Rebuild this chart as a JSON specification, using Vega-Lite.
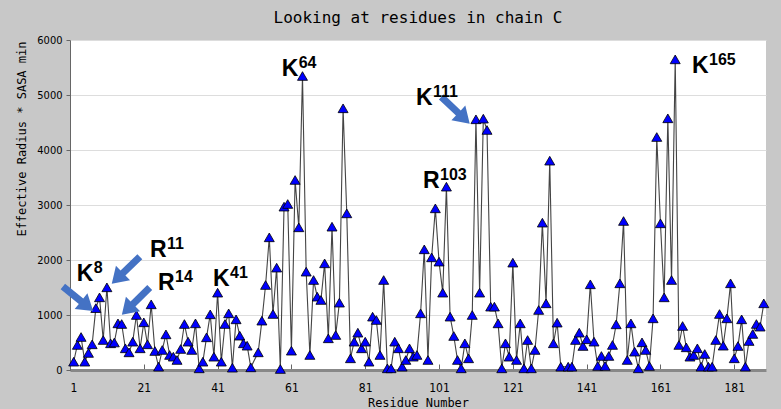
{
  "$schema": "https://vega.github.io/schema/vega-lite/v6.json",
  "width": 696,
  "height": 330,
  "autosize": {"type": "none"},
  "padding": {"left": 70, "top": 40, "right": 15, "bottom": 39},
  "background": "#c8c8c8",
  "config": {"view": {"fill": "white", "stroke": null}},
  "title": {"text": "Looking at residues in chain C", "font": "DejaVu Sans Mono", "fontSize": 16, "fontWeight": "normal", "color": "#000", "anchor": "middle", "offset": 8},
  "datasets": {
    "res": [
      {"residue": 2, "value": 151}, {"residue": 3, "value": 455}, {"residue": 4, "value": 600}, {"residue": 5, "value": 151},
      {"residue": 6, "value": 310}, {"residue": 7, "value": 467}, {"residue": 8, "value": 1125}, {"residue": 9, "value": 1321},
      {"residue": 10, "value": 545}, {"residue": 11, "value": 1503}, {"residue": 12, "value": 485}, {"residue": 13, "value": 500},
      {"residue": 14, "value": 848}, {"residue": 15, "value": 836}, {"residue": 16, "value": 394}, {"residue": 17, "value": 321},
      {"residue": 18, "value": 515}, {"residue": 19, "value": 1000}, {"residue": 20, "value": 394}, {"residue": 21, "value": 867},
      {"residue": 22, "value": 467}, {"residue": 23, "value": 1194}, {"residue": 24, "value": 345}, {"residue": 25, "value": 60},
      {"residue": 26, "value": 364}, {"residue": 27, "value": 648}, {"residue": 28, "value": 273}, {"residue": 29, "value": 242},
      {"residue": 30, "value": 182}, {"residue": 31, "value": 382}, {"residue": 32, "value": 836}, {"residue": 33, "value": 515},
      {"residue": 34, "value": 364}, {"residue": 35, "value": 848}, {"residue": 36, "value": 30}, {"residue": 37, "value": 151},
      {"residue": 38, "value": 594}, {"residue": 39, "value": 1012}, {"residue": 40, "value": 242}, {"residue": 41, "value": 1406},
      {"residue": 42, "value": 151}, {"residue": 43, "value": 836}, {"residue": 44, "value": 1030}, {"residue": 45, "value": 42},
      {"residue": 46, "value": 921}, {"residue": 47, "value": 624}, {"residue": 48, "value": 485}, {"residue": 49, "value": 442},
      {"residue": 50, "value": 48}, {"residue": 52, "value": 321}, {"residue": 53, "value": 897}, {"residue": 54, "value": 1545},
      {"residue": 55, "value": 2412}, {"residue": 56, "value": 1018}, {"residue": 57, "value": 1861}, {"residue": 58, "value": 18},
      {"residue": 59, "value": 2970}, {"residue": 60, "value": 3018}, {"residue": 61, "value": 351}, {"residue": 62, "value": 3455},
      {"residue": 63, "value": 2594}, {"residue": 64, "value": 5345}, {"residue": 65, "value": 1788}, {"residue": 66, "value": 273},
      {"residue": 67, "value": 1636}, {"residue": 68, "value": 1333}, {"residue": 69, "value": 1273}, {"residue": 70, "value": 1939},
      {"residue": 71, "value": 576}, {"residue": 72, "value": 2606}, {"residue": 73, "value": 636}, {"residue": 74, "value": 1224},
      {"residue": 75, "value": 4758}, {"residue": 76, "value": 2848}, {"residue": 77, "value": 212}, {"residue": 78, "value": 515},
      {"residue": 79, "value": 679}, {"residue": 80, "value": 394}, {"residue": 81, "value": 515}, {"residue": 82, "value": 151},
      {"residue": 83, "value": 970}, {"residue": 84, "value": 909}, {"residue": 85, "value": 273}, {"residue": 86, "value": 1636},
      {"residue": 87, "value": 30}, {"residue": 88, "value": 30}, {"residue": 89, "value": 515}, {"residue": 90, "value": 394},
      {"residue": 91, "value": 60}, {"residue": 92, "value": 182}, {"residue": 93, "value": 394}, {"residue": 94, "value": 242},
      {"residue": 95, "value": 273}, {"residue": 96, "value": 1030}, {"residue": 97, "value": 2194}, {"residue": 98, "value": 182},
      {"residue": 99, "value": 2048}, {"residue": 100, "value": 2939}, {"residue": 101, "value": 1970}, {"residue": 102, "value": 1406},
      {"residue": 103, "value": 3333}, {"residue": 104, "value": 970}, {"residue": 105, "value": 618}, {"residue": 106, "value": 182},
      {"residue": 107, "value": 30}, {"residue": 108, "value": 485}, {"residue": 109, "value": 212}, {"residue": 110, "value": 1000},
      {"residue": 111, "value": 4558}, {"residue": 112, "value": 1406}, {"residue": 113, "value": 4570}, {"residue": 114, "value": 4364},
      {"residue": 115, "value": 1152}, {"residue": 116, "value": 1152}, {"residue": 117, "value": 848}, {"residue": 118, "value": 30},
      {"residue": 119, "value": 485}, {"residue": 120, "value": 242}, {"residue": 121, "value": 1952}, {"residue": 122, "value": 182},
      {"residue": 123, "value": 848}, {"residue": 124, "value": 30}, {"residue": 125, "value": 545}, {"residue": 126, "value": 30},
      {"residue": 127, "value": 364}, {"residue": 128, "value": 1091}, {"residue": 129, "value": 2679}, {"residue": 130, "value": 1212},
      {"residue": 131, "value": 3806}, {"residue": 132, "value": 485}, {"residue": 133, "value": 861}, {"residue": 134, "value": 60},
      {"residue": 136, "value": 60}, {"residue": 137, "value": 60}, {"residue": 138, "value": 545}, {"residue": 139, "value": 679},
      {"residue": 140, "value": 436}, {"residue": 141, "value": 558}, {"residue": 142, "value": 1558}, {"residue": 143, "value": 515},
      {"residue": 144, "value": 73}, {"residue": 145, "value": 255}, {"residue": 146, "value": 73}, {"residue": 147, "value": 255},
      {"residue": 148, "value": 455}, {"residue": 149, "value": 830}, {"residue": 150, "value": 1576}, {"residue": 151, "value": 2709},
      {"residue": 152, "value": 182}, {"residue": 153, "value": 848}, {"residue": 154, "value": 333}, {"residue": 155, "value": 30},
      {"residue": 156, "value": 503}, {"residue": 157, "value": 364}, {"residue": 158, "value": 73}, {"residue": 159, "value": 939},
      {"residue": 160, "value": 4236}, {"residue": 161, "value": 2667}, {"residue": 162, "value": 1321}, {"residue": 163, "value": 4576},
      {"residue": 164, "value": 1636}, {"residue": 165, "value": 5648}, {"residue": 166, "value": 455}, {"residue": 167, "value": 800},
      {"residue": 168, "value": 412}, {"residue": 169, "value": 242}, {"residue": 170, "value": 273}, {"residue": 171, "value": 394},
      {"residue": 172, "value": 60}, {"residue": 173, "value": 291}, {"residue": 174, "value": 60}, {"residue": 175, "value": 60},
      {"residue": 176, "value": 545}, {"residue": 177, "value": 1018}, {"residue": 178, "value": 442}, {"residue": 179, "value": 939},
      {"residue": 180, "value": 1576}, {"residue": 181, "value": 212}, {"residue": 182, "value": 436}, {"residue": 183, "value": 921},
      {"residue": 184, "value": 60}, {"residue": 185, "value": 527}, {"residue": 186, "value": 655}, {"residue": 187, "value": 836},
      {"residue": 188, "value": 788}, {"residue": 189, "value": 1212}
    ],
    "labels": [
      {"residue": 2.82, "value": 1618, "base": "K", "sup": "8"},
      {"residue": 22.68, "value": 2055, "base": "R", "sup": "11"},
      {"residue": 24.85, "value": 1455, "base": "R", "sup": "14"},
      {"residue": 39.75, "value": 1527, "base": "K", "sup": "41"},
      {"residue": 58.37, "value": 5345, "base": "K", "sup": "64"},
      {"residue": 94.77, "value": 4818, "base": "K", "sup": "111"},
      {"residue": 96.66, "value": 3309, "base": "R", "sup": "103"},
      {"residue": 169.56, "value": 5400, "base": "K", "sup": "165"}
    ],
    "arrows": [
      {"residue": 3.17, "value": 1296, "angle": 129},
      {"residue": 16.12, "value": 1813, "angle": 226},
      {"residue": 18.83, "value": 1251, "angle": 225.6},
      {"residue": 105.47, "value": 4722, "angle": 133.3}
    ]
  },
  "layer": [
    {
      "data": {"name": "res"},
      "mark": {"type": "line", "color": "#444444", "strokeWidth": 1.1},
      "encoding": {
        "x": {"field": "residue", "type": "quantitative",
          "scale": {"domain": [1, 189.6], "nice": false, "zero": false},
          "axis": {"values": [1, 21, 41, 61, 81, 101, 121, 141, 161, 181], "format": "d", "title": "Residue Number",
            "titleFont": "DejaVu Sans Mono", "titleFontSize": 12, "titleFontWeight": "normal", "titleColor": "#000", "titlePadding": 4,
            "labelFont": "Liberation Sans Narrow, DejaVu Sans Condensed, Liberation Sans", "labelFontSize": 12, "labelColor": "#000", "labelPadding": 18,
            "tickSize": -6, "tickColor": "#666666", "domainColor": "#888888", "domainWidth": 3, "grid": false}},
        "y": {"field": "value", "type": "quantitative",
          "scale": {"domain": [0, 6000], "nice": false},
          "axis": {"values": [0, 1000, 2000, 3000, 4000, 5000, 6000], "format": "d", "title": "Effective Radius * SASA min",
            "titleFont": "DejaVu Sans Mono", "titleFontSize": 12, "titleFontWeight": "normal", "titleColor": "#000",
            "titleAngle": -90, "titleX": -49, "titleY": 1, "titleAlign": "right", "titleBaseline": "middle",
            "labelFont": "Liberation Sans Narrow, DejaVu Sans Condensed, Liberation Sans", "labelFontSize": 11, "labelColor": "#000", "labelPadding": 4,
            "tickSize": 4, "tickColor": "#666666", "domainColor": "#666666", "domainWidth": 1,
            "grid": true, "gridColor": "#dddddd", "gridWidth": 1}}
      }
    },
    {
      "data": {"name": "res"},
      "mark": {"type": "point", "shape": "triangle-up", "filled": true, "fill": "#0000ff", "stroke": "#000000", "strokeWidth": 0.8, "size": 100, "opacity": 1},
      "encoding": {
        "x": {"field": "residue", "type": "quantitative"},
        "y": {"field": "value", "type": "quantitative"}
      }
    },
    {
      "data": {"name": "arrows"},
      "mark": {"type": "point", "shape": "M0,-1L0.52,-0.2L0.18,-0.2L0.18,1L-0.18,1L-0.18,-0.2L-0.52,-0.2Z", "filled": true, "fill": "#4472C4", "strokeWidth": 0, "size": 1521, "opacity": 1},
      "encoding": {
        "x": {"field": "residue", "type": "quantitative"},
        "y": {"field": "value", "type": "quantitative"},
        "angle": {"field": "angle", "type": "quantitative", "scale": null}
      }
    },
    {
      "data": {"name": "labels"},
      "mark": {"type": "text", "font": "Liberation Sans", "fontWeight": "bold", "fontSize": 23, "align": "left", "baseline": "alphabetic", "color": "#000"},
      "encoding": {
        "x": {"field": "residue", "type": "quantitative"},
        "y": {"field": "value", "type": "quantitative"},
        "text": {"field": "base"}
      }
    },
    {
      "data": {"name": "labels"},
      "mark": {"type": "text", "font": "Liberation Sans", "fontWeight": "bold", "fontSize": 16, "align": "left", "baseline": "alphabetic", "color": "#000", "dx": 17, "dy": -8},
      "encoding": {
        "x": {"field": "residue", "type": "quantitative"},
        "y": {"field": "value", "type": "quantitative"},
        "text": {"field": "sup"}
      }
    }
  ]
}
